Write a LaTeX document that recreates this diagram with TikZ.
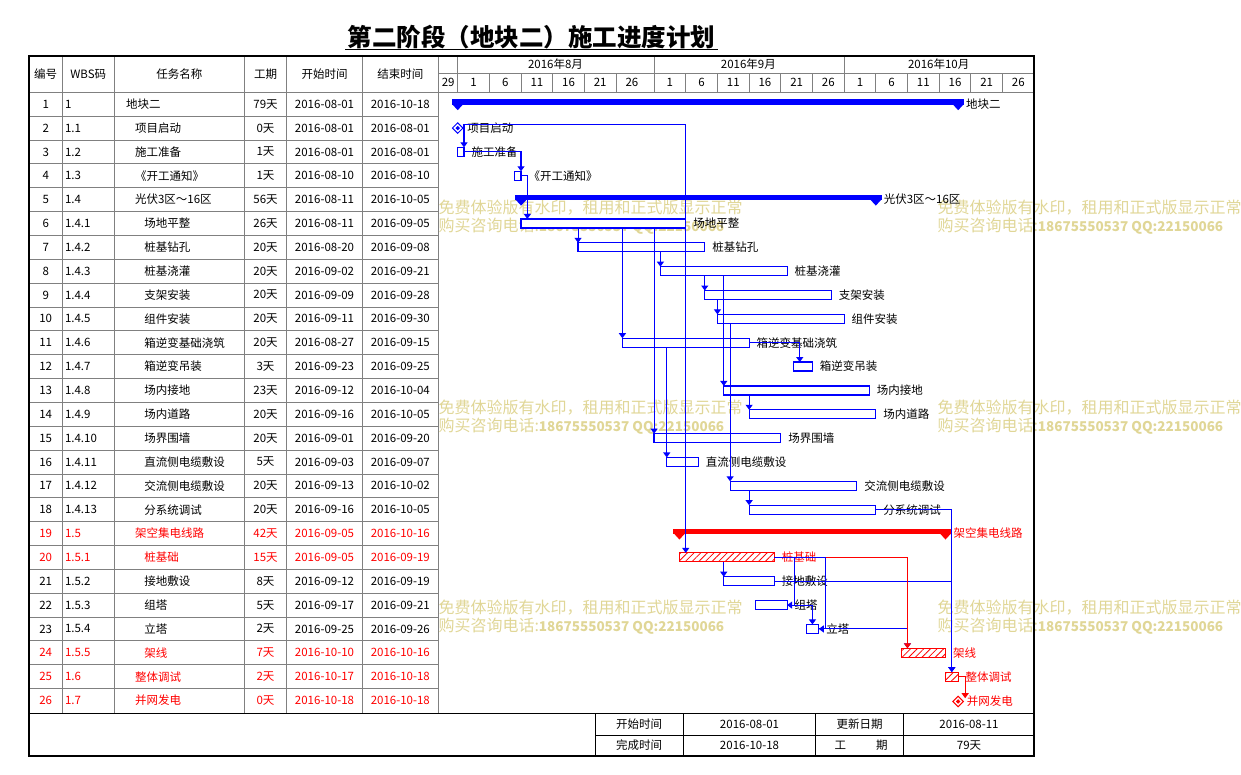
\documentclass[tikz,border=0pt]{standalone}
\usepackage{fontspec}
\setmainfont{Noto Sans CJK SC}
\usepackage{tikz}
\usetikzlibrary{arrows.meta}
\usetikzlibrary{positioning}
\usetikzlibrary{shapes.geometric}
\usetikzlibrary{patterns.meta}

\definecolor{ganttblue}{RGB}{0,0,255}
\definecolor{ganttred}{RGB}{255,0,0}
\definecolor{rulegray}{RGB}{128,128,128}
\definecolor{trialmark}{RGB}{224,214,150}

\newcommand{\dayx}[1]{(457.7+6.335*(#1))}
\newcommand{\rowy}[1]{(92.3+23.85*((#1)-0.5))}

\begin{document}
\begin{tikzpicture}[x=1pt,y=-1pt,>={Triangle[width=7pt,length=5pt]},
  every node/.style={inner sep=0pt,outer sep=0pt,font=\fontsize{11.5pt}{13pt}\selectfont},
  rule/.style={draw=rulegray,line width=0.8pt},
  frame/.style={draw=black,line width=2pt},
  foot/.style={draw=black,line width=1pt},
  task/.style={draw=ganttblue,fill=white,line width=1.2pt,anchor=west,minimum height=9pt},
  crittask/.style={draw=ganttred,line width=1.2pt,anchor=west,minimum height=9pt,preaction={fill=white},
    pattern={Lines[angle=45,distance=4.7pt,line width=0.8pt]},pattern color=ganttred},
  mile/.style={diamond,draw=#1,fill=white,line width=1pt,minimum size=10.5pt},
  milecore/.style={diamond,fill=#1,minimum size=4.5pt},
  link/.style={->,draw=ganttblue,line width=1.1pt},
  critlink/.style={->,draw=ganttred,line width=1.1pt},
  tasklabel/.style={anchor=west},
  trial/.style={anchor=west,text=trialmark,font=\fontsize{16pt}{18pt}\selectfont}]

\useasboundingbox (0,0) rectangle (1241,775);

% Trial watermarks
\foreach \y [count=\n] in {208,408,608} {
  \node[trial] (trialA\n) at (438.5,\y) {免费体验版有水印，租用和正式版显示正常};
  \node[trial] (trialB\n) at (438.5,{\y+18}) {购买咨询电话:{\bfseries\fontsize{13.5pt}{16pt}\selectfont 18675550537 QQ:22150066}};
  \node[trial] (trialC\n) at (937.5,\y) {免费体验版有水印，租用和正式版显示正常};
  \node[trial] (trialD\n) at (937.5,{\y+18}) {购买咨询电话:{\bfseries\fontsize{13.5pt}{16pt}\selectfont 18675550537 QQ:22150066}};
}

% Table grid
\foreach \x in {62.3,114.3,244.3,286.7,362.3,438.3}
  \draw[rule] (\x,55.7) -- (\x,713.3);
\foreach \i in {1,...,25}
  \draw[rule] (29,{92.3+23.85*\i}) -- (438.3,{92.3+23.85*\i});
\draw[rule] (29,92.3) -- (1034,92.3);
\draw[rule] (438.3,73.3) -- (1034,73.3);
\foreach \d in {0,31,61}
  \draw[rule] ({\dayx{\d}},55.7) -- ({\dayx{\d}},92.3);
\foreach \d in {5,10,15,20,25,36,41,46,51,56,66,71,76,81,86}
  \draw[rule] ({\dayx{\d}},73.3) -- ({\dayx{\d}},92.3);

% Title
\node[font=\bfseries\fontsize{24.5pt}{28pt}\selectfont] (title) at (531.5,37) {第二阶段（地块二）施工进度计划};
\draw[line width=1.6pt] (345,49.5) -- (718,49.5);

% Header
\node (hnum) at (45.7,74) {编号};
\node (hwbs) at (88.3,74) {WBS码};
\node (hname) at (179.3,74) {任务名称};
\node (hdur) at (265.5,74) {工期};
\node (hstart) at (324.5,74) {开始时间};
\node (hend) at (400.3,74) {结束时间};
\node (aug) at (555.5,64.5) {2016年8月};
\node (sep) at (748.4,64.5) {2016年9月};
\node (oct) at (938.7,64.5) {2016年10月};
\foreach \d/\lab [count=\n] in {-4/29,0/1,5/6,10/11,15/16,20/21,25/26,31/1,36/6,41/11,46/16,51/21,56/26,61/1,66/6,71/11,76/16,81/21,86/26}
  \node (day\n) at ({\dayx{\d+2.5}},82.8) {\lab};

% Task table
\foreach \i/\wbs/\tname/\ind/\dur/\st/\fin/\col in {
  1/1/地块二/126/79天/2016-08-01/2016-10-18/black,
  2/1.1/项目启动/135/0天/2016-08-01/2016-08-01/black,
  3/1.2/施工准备/135/1天/2016-08-01/2016-08-01/black,
  4/1.3/《开工通知》/135/1天/2016-08-10/2016-08-10/black,
  5/1.4/光伏3区～16区/135/56天/2016-08-11/2016-10-05/black,
  6/1.4.1/场地平整/144.3/26天/2016-08-11/2016-09-05/black,
  7/1.4.2/桩基钻孔/144.3/20天/2016-08-20/2016-09-08/black,
  8/1.4.3/桩基浇灌/144.3/20天/2016-09-02/2016-09-21/black,
  9/1.4.4/支架安装/144.3/20天/2016-09-09/2016-09-28/black,
  10/1.4.5/组件安装/144.3/20天/2016-09-11/2016-09-30/black,
  11/1.4.6/箱逆变基础浇筑/144.3/20天/2016-08-27/2016-09-15/black,
  12/1.4.7/箱逆变吊装/144.3/3天/2016-09-23/2016-09-25/black,
  13/1.4.8/场内接地/144.3/23天/2016-09-12/2016-10-04/black,
  14/1.4.9/场内道路/144.3/20天/2016-09-16/2016-10-05/black,
  15/1.4.10/场界围墙/144.3/20天/2016-09-01/2016-09-20/black,
  16/1.4.11/直流侧电缆敷设/144.3/5天/2016-09-03/2016-09-07/black,
  17/1.4.12/交流侧电缆敷设/144.3/20天/2016-09-13/2016-10-02/black,
  18/1.4.13/分系统调试/144.3/20天/2016-09-16/2016-10-05/black,
  19/1.5/架空集电线路/135/42天/2016-09-05/2016-10-16/ganttred,
  20/1.5.1/桩基础/144.3/15天/2016-09-05/2016-09-19/ganttred,
  21/1.5.2/接地敷设/144.3/8天/2016-09-12/2016-09-19/black,
  22/1.5.3/组塔/144.3/5天/2016-09-17/2016-09-21/black,
  23/1.5.4/立塔/144.3/2天/2016-09-25/2016-09-26/black,
  24/1.5.5/架线/144.3/7天/2016-10-10/2016-10-16/ganttred,
  25/1.6/整体调试/135/2天/2016-10-17/2016-10-18/ganttred,
  26/1.7/并网发电/135/0天/2016-10-18/2016-10-18/ganttred} {
  \node[text=\col] (num\i) at (45.7,{\rowy{\i}}) {\i};
  \node[text=\col,anchor=west] (wbs\i) at (65,{\rowy{\i}}) {\wbs};
  \node[text=\col,anchor=west] (name\i) at (\ind,{\rowy{\i}}) {\tname};
  \node[text=\col] (dur\i) at (265.5,{\rowy{\i}}) {\dur};
  \node[text=\col] (start\i) at (324.5,{\rowy{\i}}) {\st};
  \node[text=\col] (end\i) at (400.3,{\rowy{\i}}) {\fin};
}

% Summary bars
\foreach \r/\a/\b/\col/\tcol/\lab in {1/0/79/ganttblue/black/地块二,
    5/10/66/ganttblue/black/光伏3区～16区, 19/35/77/ganttred/ganttred/架空集电线路} {
  \fill[fill=\col] ({\dayx{\a}-6},{\rowy{\r}-5}) rectangle ({\dayx{\b}+6},{\rowy{\r}+0.5});
  \fill[fill=\col] ({\dayx{\a}-5.5},{\rowy{\r}}) -- ++(11,0) -- ++(-5.5,6) -- cycle;
  \fill[fill=\col] ({\dayx{\b}-5.5},{\rowy{\r}}) -- ++(11,0) -- ++(-5.5,6) -- cycle;
  \node[tasklabel,text=\tcol] (sum\r) at ({\dayx{\b}+8},{\rowy{\r}}) {\lab};
}

% Task bars
\node[task,minimum width=6.335pt] (t3) at ({\dayx{0}},{\rowy{3}}) {};
\node[task,minimum width=6.335pt] (t4) at ({\dayx{9}},{\rowy{4}}) {};
\node[task,minimum width=26*6.335pt] (t6) at ({\dayx{10}},{\rowy{6}}) {};
\node[task,minimum width=20*6.335pt] (t7) at ({\dayx{19}},{\rowy{7}}) {};
\node[task,minimum width=20*6.335pt] (t8) at ({\dayx{32}},{\rowy{8}}) {};
\node[task,minimum width=20*6.335pt] (t9) at ({\dayx{39}},{\rowy{9}}) {};
\node[task,minimum width=20*6.335pt] (t10) at ({\dayx{41}},{\rowy{10}}) {};
\node[task,minimum width=20*6.335pt] (t11) at ({\dayx{26}},{\rowy{11}}) {};
\node[task,minimum width=3*6.335pt] (t12) at ({\dayx{53}},{\rowy{12}}) {};
\node[task,minimum width=23*6.335pt] (t13) at ({\dayx{42}},{\rowy{13}}) {};
\node[task,minimum width=20*6.335pt] (t14) at ({\dayx{46}},{\rowy{14}}) {};
\node[task,minimum width=20*6.335pt] (t15) at ({\dayx{31}},{\rowy{15}}) {};
\node[task,minimum width=5*6.335pt] (t16) at ({\dayx{33}},{\rowy{16}}) {};
\node[task,minimum width=20*6.335pt] (t17) at ({\dayx{43}},{\rowy{17}}) {};
\node[task,minimum width=20*6.335pt] (t18) at ({\dayx{46}},{\rowy{18}}) {};
\node[crittask,minimum width=15*6.335pt] (t20) at ({\dayx{35}},{\rowy{20}}) {};
\node[task,minimum width=8*6.335pt] (t21) at ({\dayx{42}},{\rowy{21}}) {};
\node[task,minimum width=5*6.335pt] (t22) at ({\dayx{47}},{\rowy{22}}) {};
\node[task,minimum width=2*6.335pt] (t23) at ({\dayx{55}},{\rowy{23}}) {};
\node[crittask,minimum width=7*6.335pt] (t24) at ({\dayx{70}},{\rowy{24}}) {};
\node[crittask,minimum width=2*6.335pt] (t25) at ({\dayx{77}},{\rowy{25}}) {};

% Milestones
\node[mile=ganttblue] (m2) at ({\dayx{0}},{\rowy{2}}) {};
\node[milecore=ganttblue] (m2c) at (m2) {};
\node[mile=ganttred] (m26) at ({\dayx{79}},{\rowy{26}+1}) {};
\node[milecore=ganttred] (m26c) at (m26) {};

% Bar labels
\node[tasklabel,right=4.5pt of m2] (l2) {项目启动};
\node[tasklabel,right=7.5pt of t3] (l3) {施工准备};
\node[tasklabel,right=7.5pt of t4] (l4) {《开工通知》};
\node[tasklabel,right=7.5pt of t6] (l6) {场地平整};
\node[tasklabel,right=7.5pt of t7] (l7) {桩基钻孔};
\node[tasklabel,right=7.5pt of t8] (l8) {桩基浇灌};
\node[tasklabel,right=7.5pt of t9] (l9) {支架安装};
\node[tasklabel,right=7.5pt of t10] (l10) {组件安装};
\node[tasklabel,right=7.5pt of t11] (l11) {箱逆变基础浇筑};
\node[tasklabel,right=7.5pt of t12] (l12) {箱逆变吊装};
\node[tasklabel,right=7.5pt of t13] (l13) {场内接地};
\node[tasklabel,right=7.5pt of t14] (l14) {场内道路};
\node[tasklabel,right=7.5pt of t15] (l15) {场界围墙};
\node[tasklabel,right=7.5pt of t16] (l16) {直流侧电缆敷设};
\node[tasklabel,right=7.5pt of t17] (l17) {交流侧电缆敷设};
\node[tasklabel,right=7.5pt of t18] (l18) {分系统调试};
\node[tasklabel,text=ganttred,right=7.5pt of t20] (l20) {桩基础};
\node[tasklabel,right=7.5pt of t21] (l21) {接地敷设};
\node[tasklabel,right=7.5pt of t22] (l22) {组塔};
\node[tasklabel,right=7.5pt of t23] (l23) {立塔};
\node[tasklabel,text=ganttred,right=7.5pt of t24] (l24) {架线};
\node[tasklabel,text=ganttred,right=7.5pt of t25] (l25) {整体调试};
\node[tasklabel,text=ganttred,right=3.5pt of m26] (l26) {并网发电};

% Links
\draw[link] ([yshift=3.4pt]m2.east) -| ([xshift=6.3pt]t3.north west);
\draw[link] ([yshift=3.4pt]m2.east) -| ([xshift=6.3pt]t20.north west);
\draw[link] (t3.east) -| ([xshift=6.3pt]t4.north west);
\draw[link] (t4.east) -| ([xshift=6.3pt]t6.north west);
\draw[link] (t6.south -| t7.west) -- (t7.north west);
\draw[link] (t6.south -| t11.west) -- (t11.north west);
\draw[link] (t6.south -| t15.west) -- (t15.north west);
\draw[link] (t7.south -| t8.west) -- (t8.north west);
\draw[link] (t8.south -| t9.west) -- (t9.north west);
\draw[link] (t8.south -| t13.west) -- (t13.north west);
\draw[link] (t9.south -| t10.west) -- (t10.north west);
\draw[link] (t10.south -| t17.west) -- (t17.north west);
\draw[link] (t11.east) -| ([xshift=6.3pt]t12.north west);
\draw[link] (t11.south -| t16.west) -- (t16.north west);
\draw[link] (t13.south -| t14.west) -- (t14.north west);
\draw[link] (t17.south -| t18.west) -- (t18.north west);
\draw[link] (t18.east) -| ([xshift=6.3pt]t25.north west);
\draw[link] (t21.east) -| ([xshift=6.3pt]t25.north west);
\draw[link] (t20.south -| t21.west) -- (t21.north west);
\draw[link] (t23.east) -| ([xshift=6.3pt]t24.north west);
\draw[critlink] (t20.east) -| ([xshift=6.3pt]t24.north west);
\draw[link] (t20.east) -| ([xshift=7pt]t22.east) -- (t22.east);
\draw[link] (t20.east) -| ([xshift=7pt]t23.east) -- (t23.east);
\draw[link] (t22.east) -| ([xshift=6.3pt]t23.north west);
\draw[critlink] (t25.east) -| ([xshift=7pt,yshift=-2pt]m26.north);

% Footer
\draw[foot] (29,713.3) -- (1034,713.3);
\draw[foot] (595,735) -- (1034,735);
\foreach \x in {595,683.3,815.7,903.3}
  \draw[foot] (\x,713.3) -- (\x,756);
\node (fstartlab) at (639,724.2) {开始时间};
\node (fstart) at (749.5,724.2) {2016-08-01};
\node (fupdlab) at (859.5,724.2) {更新日期};
\node (fupd) at (969,724.2) {2016-08-11};
\node (fendlab) at (639,745.5) {完成时间};
\node (fend) at (749.5,745.5) {2016-10-18};
\node (fdurlab) at (861,745.5) {工\hspace{30pt}期};
\node (fdur) at (969,745.5) {79天};

% Outer frame
\draw[frame] (29,55.7) rectangle (1034,756);

\end{tikzpicture}
\end{document}
